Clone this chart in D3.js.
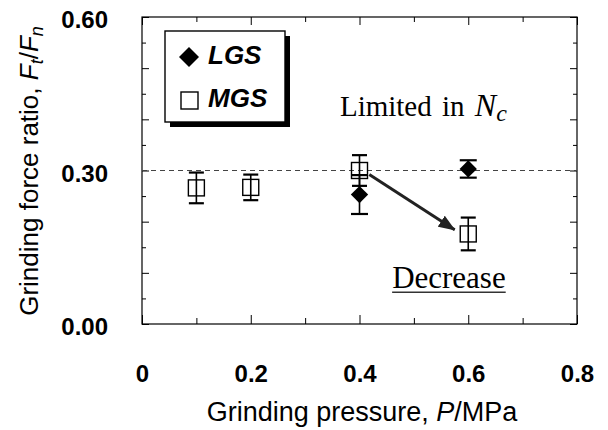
<!DOCTYPE html>
<html>
  <head>
    <meta charset="UTF-8" />
    <style>
      body {
        margin: 0;
        background: #ffffff;
      }
      svg text {
        font-family: 'Liberation Sans', Arial, sans-serif;
        fill: #000;
      }
      .serif {
        font-family: 'Liberation Serif', 'Times New Roman', serif !important;
      }
    </style>
  </head>
  <body>
    <svg></svg>

    <script src="https://d3js.org/d3.v7.min.js"></script>

    <script>
      // chart values
      const mgsPressure = [0.1, 0.2, 0.4, 0.6]
      const mgsRatio = [0.266, 0.267, 0.3, 0.176]
      const mgsError = [0.03, 0.025, 0.03, 0.032]

      const lgsPressure = [0.4, 0.6]
      const lgsRatio = [0.253, 0.303]
      const lgsError = [0.038, 0.017]

      const xMajor = [0, 0.2, 0.4, 0.6, 0.8]
      const xMinor = [0.1, 0.3, 0.5, 0.7]
      const yMajor = [0, 0.1, 0.2, 0.3, 0.4, 0.5, 0.6]
      const yMinor = [0.05, 0.15, 0.25, 0.35, 0.45, 0.55]
      const yLabelled = [0, 0.3, 0.6]
      const limitLine = 0.3

      const legendNames = ['LGS', 'MGS']

      let width = 608,
        height = 430

      let svg = d3
        .select('svg')
        .attr('width', width)
        .attr('height', height)
        .attr('viewBox', '0 0 ' + width + ' ' + height)

      let x = d3.scaleLinear().domain([0, 0.8]).range([142, 577])
      let y = d3.scaleLinear().domain([0, 0.6]).range([324, 17])

      // axes, ticks point inward
      function tidy(g) {
        g.select('.domain').remove()
        g.selectAll('.tick line').attr('stroke', '#000').attr('stroke-width', 1)
      }

      svg
        .append('g')
        .attr('transform', 'translate(0,' + y(0) + ')')
        .call(
          d3
            .axisBottom(x)
            .tickValues(xMajor)
            .tickSize(-9)
            .tickPadding(41)
            .tickFormat((d) => (d === 0 ? '0' : d3.format('.1f')(d)))
        )
        .call(tidy)
        .selectAll('text')
        .attr('font-size', 24)
        .attr('font-weight', 'bold')

      svg
        .append('g')
        .attr('transform', 'translate(0,' + y(0) + ')')
        .call(d3.axisBottom(x).tickValues(xMinor).tickSize(-6).tickFormat(''))
        .call(tidy)

      svg
        .append('g')
        .attr('transform', 'translate(0,' + y(0.6) + ')')
        .call(d3.axisTop(x).tickValues(xMajor).tickSize(-8).tickFormat(''))
        .call(tidy)

      svg
        .append('g')
        .attr('transform', 'translate(0,' + y(0.6) + ')')
        .call(d3.axisTop(x).tickValues(xMinor).tickSize(-5).tickFormat(''))
        .call(tidy)

      svg
        .append('g')
        .attr('transform', 'translate(' + x(0) + ',0)')
        .call(
          d3
            .axisLeft(y)
            .tickValues(yMajor)
            .tickSize(-7)
            .tickPadding(34)
            .tickFormat((d) =>
              yLabelled.some((v) => Math.abs(v - d) < 1e-9) ? d3.format('.2f')(d) : ''
            )
        )
        .call(tidy)
        .selectAll('text')
        .attr('font-size', 24)
        .attr('font-weight', 'bold')
        .attr('dy', '0.45em')

      svg
        .append('g')
        .attr('transform', 'translate(' + x(0) + ',0)')
        .call(d3.axisLeft(y).tickValues(yMinor).tickSize(-4).tickFormat(''))
        .call(tidy)

      svg
        .append('g')
        .attr('transform', 'translate(' + x(0.8) + ',0)')
        .call(d3.axisRight(y).tickValues(yMajor).tickSize(-7).tickFormat(''))
        .call(tidy)

      svg
        .append('g')
        .attr('transform', 'translate(' + x(0.8) + ',0)')
        .call(d3.axisRight(y).tickValues(yMinor).tickSize(-4).tickFormat(''))
        .call(tidy)

      // frame
      svg
        .append('rect')
        .attr('x', x(0))
        .attr('y', y(0.6))
        .attr('width', x(0.8) - x(0))
        .attr('height', y(0) - y(0.6))
        .attr('fill', 'none')
        .attr('stroke', '#000')
        .attr('stroke-width', 1.2)

      // axis titles
      let xTitle = svg
        .append('text')
        .attr('x', 362)
        .attr('y', 421)
        .attr('text-anchor', 'middle')
        .attr('font-size', 27)
      xTitle.append('tspan').text('Grinding pressure, ')
      xTitle.append('tspan').attr('font-style', 'italic').text('P')
      xTitle.append('tspan').text('/MPa')

      let yTitle = svg
        .append('text')
        .attr('transform', 'translate(38,171) rotate(-90)')
        .attr('text-anchor', 'middle')
        .attr('font-size', 26)
      yTitle.append('tspan').text('Grinding force ratio, ')
      yTitle.append('tspan').attr('font-style', 'italic').text('F')
      yTitle
        .append('tspan')
        .attr('font-style', 'italic')
        .attr('font-size', 18)
        .attr('dy', 5)
        .text('t')
      yTitle.append('tspan').attr('dy', -5).text('/')
      yTitle.append('tspan').attr('font-style', 'italic').text('F')
      yTitle
        .append('tspan')
        .attr('font-style', 'italic')
        .attr('font-size', 18)
        .attr('dy', 5)
        .text('n')

      // dashed reference line
      svg
        .append('line')
        .attr('x1', x(0))
        .attr('x2', x(0.8))
        .attr('y1', y(limitLine))
        .attr('y2', y(limitLine))
        .attr('stroke', '#444')
        .attr('stroke-width', 1)
        .attr('stroke-dasharray', '5,4')

      // error bars
      function errorBars(px, py, pe, cap) {
        let g = svg.append('g').attr('stroke', '#000').attr('stroke-width', 1.6)
        px.forEach((p, i) => {
          let top = y(py[i] + pe[i]),
            bot = y(py[i] - pe[i])
          g.append('line').attr('x1', x(p)).attr('x2', x(p)).attr('y1', top).attr('y2', bot)
          g.append('line')
            .attr('x1', x(p) - cap / 2)
            .attr('x2', x(p) + cap / 2)
            .attr('y1', top)
            .attr('y2', top)
            .attr('stroke-width', 2.2)
          g.append('line')
            .attr('x1', x(p) - cap / 2)
            .attr('x2', x(p) + cap / 2)
            .attr('y1', bot)
            .attr('y2', bot)
            .attr('stroke-width', 2.2)
        })
      }
      errorBars(lgsPressure, lgsRatio, lgsError, 17)
      errorBars(mgsPressure, mgsRatio, mgsError, 15)

      let diamond = d3.symbol().type(d3.symbolSquare)

      svg
        .append('g')
        .selectAll('path')
        .data(lgsPressure)
        .enter()
        .append('path')
        .attr('d', diamond.size(150)())
        .attr('transform', (d, i) => 'translate(' + x(d) + ',' + y(lgsRatio[i]) + ') rotate(45)')
        .attr('fill', '#000')

      svg
        .append('g')
        .selectAll('rect')
        .data(mgsPressure)
        .enter()
        .append('rect')
        .attr('x', (d) => x(d) - 8)
        .attr('y', (d, i) => y(mgsRatio[i]) - 8)
        .attr('width', 16)
        .attr('height', 16)
        .attr('fill', 'none')
        .attr('stroke', '#000')
        .attr('stroke-width', 1.4)

      // arrow from MGS 0.4 to MGS 0.6
      svg
        .append('defs')
        .append('marker')
        .attr('id', 'head')
        .attr('markerUnits', 'userSpaceOnUse')
        .attr('markerWidth', 17)
        .attr('markerHeight', 13)
        .attr('refX', 16)
        .attr('refY', 6.5)
        .attr('orient', 'auto')
        .append('path')
        .attr('d', 'M0,0 L17,6.5 L0,13 Z')
        .attr('fill', '#222')

      svg
        .append('line')
        .attr('x1', x(0.418))
        .attr('y1', y(0.292))
        .attr('x2', x(0.575))
        .attr('y2', y(0.184))
        .attr('stroke', '#222')
        .attr('stroke-width', 3)
        .attr('marker-end', 'url(#head)')

      // annotations
      let lim = svg
        .append('text')
        .attr('class', 'serif')
        .attr('x', x(0.364))
        .attr('y', y(0.406))
        .attr('font-size', 29)
        .attr('word-spacing', 3)
      lim.append('tspan').text('Limited in ')
      lim.append('tspan').attr('font-style', 'italic').attr('font-size', 32).text('N')
      lim
        .append('tspan')
        .attr('font-style', 'italic')
        .attr('font-size', 24)
        .attr('dy', 5)
        .text('c')

      let dec = svg
        .append('text')
        .attr('class', 'serif')
        .attr('x', x(0.46))
        .attr('y', y(0.07))
        .attr('font-size', 31)
        .text('Decrease')

      let decLen = dec.node().getComputedTextLength()
      svg
        .append('line')
        .attr('x1', x(0.46))
        .attr('x2', x(0.46) + decLen)
        .attr('y1', y(0.07) + 4)
        .attr('y2', y(0.07) + 4)
        .attr('stroke', '#333')
        .attr('stroke-width', 1.6)

      // legend
      let legend = svg.append('g').attr('transform', 'translate(165,31)')
      legend
        .append('rect')
        .attr('x', 5)
        .attr('y', 5)
        .attr('width', 120)
        .attr('height', 91)
        .attr('fill', '#000')
      legend
        .append('rect')
        .attr('width', 120)
        .attr('height', 91)
        .attr('fill', '#fff')
        .attr('stroke', '#000')
        .attr('stroke-width', 1.4)

      legend
        .append('path')
        .attr('d', diamond.size(200)())
        .attr('transform', 'translate(24,26) rotate(45)')
        .attr('fill', '#000')
      legend
        .append('rect')
        .attr('x', 16)
        .attr('y', 61)
        .attr('width', 17)
        .attr('height', 17)
        .attr('fill', 'none')
        .attr('stroke', '#000')
        .attr('stroke-width', 1.4)

      legend
        .selectAll('text.leg')
        .data(legendNames)
        .enter()
        .append('text')
        .attr('class', 'leg')
        .attr('x', 43)
        .attr('y', (d, i) => 33 + i * 43)
        .attr('font-size', 26)
        .attr('font-style', 'italic')
        .attr('font-weight', 'bold')
        .text((d) => d)
    </script>
  </body>
</html>
